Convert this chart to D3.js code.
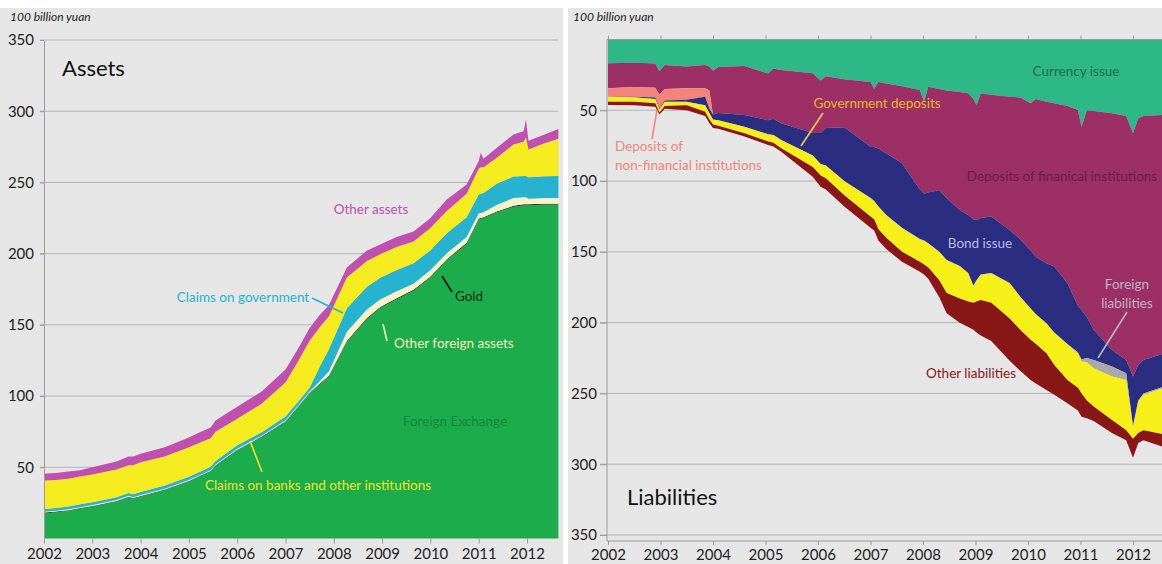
<!DOCTYPE html>
<html><head><meta charset="utf-8">
<script src="https://cdn.jsdelivr.net/npm/d3@7"></script>
<style>
body{margin:0;background:#fff;}
svg{display:block;font-family:Lato,"Open Sans",sans-serif;}
</style></head>
<body>
<svg id="c" width="1162" height="564"></svg>
<script>
// ---------- ASSETS (100 billion yuan) ----------
const assetDates = [2002.0,2002.25,2002.5,2002.75,2003.0,2003.5,2003.75,2003.85,2004.0,2004.5,2005.0,2005.25,2005.45,2005.55,2006.0,2006.5,2007.0,2007.25,2007.5,2007.7,2007.9,2008.27,2008.68,2008.96,2009.3,2009.65,2009.99,2010.34,2010.75,2011.0,2011.04,2011.1,2011.37,2011.72,2011.93,2011.98,2012.03,2012.35,2012.65];
const foreignExchange = [17.8,18.5,19.5,21.0,22.5,26.0,29.0,28.0,29.5,34.0,40.0,44.0,47.0,51.0,62.0,71.0,82.0,92.0,102.0,108.0,114.0,138.0,154.0,162.0,168.0,174.0,183.0,195.5,207.0,224.0,224.5,225.0,229.0,233.0,234.0,234.0,234.0,234.5,234.5];
const gold = [0.4,0.4,0.4,0.4,0.4,0.4,0.4,0.4,0.4,0.4,0.4,0.4,0.4,0.4,0.4,0.4,0.4,0.4,0.4,0.5,0.5,0.6,0.6,0.6,0.6,0.6,0.6,0.6,0.6,0.6,0.6,0.6,0.6,0.6,0.6,0.6,0.6,0.6,0.6];
const otherForeignAssets = [0.6,0.6,0.6,0.6,0.6,0.6,0.6,0.6,0.6,0.6,0.6,0.6,0.6,0.6,0.6,0.6,0.6,0.7,0.8,1.5,3.0,6.5,6.0,5.2,5.0,4.2,4.5,4.2,4.0,3.5,3.5,3.5,4.5,5.5,5.0,5.0,4.0,4.0,4.0];
const claimsOnGovernment = [2.0,2.0,2.0,2.0,2.0,2.0,2.0,2.0,2.2,2.2,2.3,2.3,2.4,2.4,2.5,2.5,2.6,2.6,2.6,10.0,15.5,16.5,16.0,15.3,15.0,14.5,14.0,14.0,14.0,13.5,13.5,13.5,15.0,15.0,15.0,15.0,15.0,15.3,15.5];
const claimsOnBanks = [19.9,19.5,19.5,19.5,19.5,19.5,19.5,20.5,20.8,20.3,20.7,20.2,20.0,20.5,18.5,20.0,24.0,28.0,33.0,28.0,23.0,21.7,18.0,16.4,16.0,15.2,15.5,15.7,16.5,18.0,18.5,18.0,18.0,22.5,24.0,27.0,19.5,23.0,26.0];
const otherAssets = [4.8,5.0,5.0,4.5,5.0,5.5,6.0,6.0,6.0,6.5,7.0,7.5,7.5,8.0,8.5,8.5,9.0,9.0,9.0,8.5,8.0,7.0,7.4,7.0,7.0,7.0,7.0,8.0,6.5,5.5,10.0,6.0,7.0,7.0,7.4,12.5,6.2,6.0,7.0];

// ---------- LIABILITIES (100 billion yuan) ----------
const liabDates = [2002.0,2002.5,2002.9,2002.98,2003.08,2003.5,2003.85,2003.93,2004.0,2004.1,2004.6,2005.05,2005.15,2005.3,2005.9,2006.05,2006.15,2006.5,2007.0,2007.07,2007.15,2007.3,2007.6,2007.94,2008.02,2008.1,2008.31,2008.45,2008.7,2008.86,2008.96,2009.02,2009.1,2009.3,2009.65,2009.85,2010.05,2010.15,2010.35,2010.5,2010.75,2010.95,2011.02,2011.12,2011.25,2011.6,2011.87,2012.0,2012.1,2012.2,2012.6];
const currencyIssue = [16.8,16.5,17.0,22.5,18.0,19.0,18.0,19.0,22.0,19.5,18.7,24.0,20.5,21.5,23.9,29.0,26.0,28.0,30.0,35.0,30.0,31.0,33.0,35.7,43.9,33.3,35.0,36.0,37.0,38.0,42.0,46.3,38.0,39.0,40.4,41.0,45.0,42.0,43.9,45.0,47.0,49.8,61.6,50.0,50.5,52.1,54.0,66.3,55.7,54.0,53.3];
const depositsFinancial = [17.7,17.0,17.0,16.5,17.0,15.5,16.5,17.0,31.0,32.5,34.6,33.0,35.5,37.7,42.1,37.0,36.5,34.0,45.7,41.0,47.0,49.4,54.4,70.3,65.1,74.7,71.3,76.0,83.4,86.0,85.0,81.2,88.0,86.0,94.1,100.0,104.0,111.4,114.1,115.4,125.0,138.2,129.4,146.0,154.5,167.2,172.3,171.7,174.3,172.3,168.3];
const depositsNonFinancial = [5.9,7.0,7.0,10.0,8.0,8.0,6.0,13.0,0,0,0,0,0,0,0,0,0,0,0,0,0,0,0,0,0,0,0,0,0,0,0,0,0,0,0,0,0,0,0,0,0,0,0,0,0,0,0,0,0,0,0];
const bondIssue = [0,0.3,1.0,0.5,1.0,1.5,6.0,3.0,3.5,5.0,8.3,10.0,11.5,11.8,16.0,22.0,26.5,38.0,36.3,38.0,41.0,43.6,45.6,35.0,33.0,36.0,43.7,43.7,39.6,41.0,47.0,42.5,40.0,40.0,37.5,40.6,41.0,40.6,42.4,46.6,43.0,33.0,35.0,29.0,21.3,11.7,9.4,35.0,25.0,23.7,23.4];
const foreignLiabilities = [0.2,0.2,0.2,0.2,0.2,0.2,0.2,0.2,0.2,0.2,0.2,0.2,0.2,0.2,0.2,0.2,0.2,0.2,0.2,0.2,0.2,0.3,0.3,0.3,0.3,0.3,0.3,0.3,0.3,0.3,0.3,0.3,0.3,0.3,0.3,0.3,0.3,0.3,0.3,0.4,0.5,1.0,1.5,3.0,5.9,7.0,4.8,1.0,1.0,1.0,1.0];
const governmentDeposits = [3.3,3.0,2.8,1.8,2.8,2.3,4.3,4.3,3.3,3.8,4.5,4.8,5.3,5.6,7.8,7.8,8.8,9.8,12.8,12.8,15.8,15.7,16.7,15.7,16.7,16.7,19.7,23.0,22.7,19.7,11.7,14.7,17.7,20.7,24.7,23.1,21.7,20.7,20.9,22.6,25.0,24.0,22.5,27.0,27.1,30.7,35.5,8.0,22.0,25.0,33.0];
const otherLiabilities = [2.4,2.5,2.5,1.5,2.0,3.5,3.0,2.5,2.5,2.0,2.3,2.5,2.5,2.4,7.0,8.0,8.0,8.0,8.0,8.0,8.0,8.0,7.0,7.0,7.0,8.0,12.0,14.4,17.0,18.0,19.0,22.0,25.0,27.0,30.0,29.0,28.5,28.0,25.9,21.0,16.5,16.0,16.4,12.5,10.2,9.3,7.0,13.5,7.0,7.0,9.0];

const yearTicks = [2002,2003,2004,2005,2006,2007,2008,2009,2010,2011,2012];
const valueTicks = [50,100,150,200,250,300,350];

// ---------- build tables ----------
const assetKeys = ["Foreign Exchange","Gold","Other foreign assets","Claims on government","Claims on banks and other institutions","Other assets"];
const assetSeries = [foreignExchange,gold,otherForeignAssets,claimsOnGovernment,claimsOnBanks,otherAssets];
const assetColors = ["#1cac4b","#1b1b1b","#f7f3c6","#27b3cf","#f4ec1f","#bf50ad"];
const assetTable = assetDates.map((t,i)=>{const o={t}; assetKeys.forEach((k,j)=>o[k]=assetSeries[j][i]); return o;});

const liabKeys = ["Currency issue","Deposits of finanical institutions","Deposits of non-financial institutions","Bond issue","Foreign liabilities","Government deposits","Other liabilities"];
const liabSeries = [currencyIssue,depositsFinancial,depositsNonFinancial,bondIssue,foreignLiabilities,governmentDeposits,otherLiabilities];
const liabColors = ["#2eb887","#9b2f66","#f3847b","#2b2d80","#a9a9a9","#f6ef18","#8a1717"];
const liabTable = liabDates.map((t,i)=>{const o={t}; liabKeys.forEach((k,j)=>o[k]=liabSeries[j][i]); return o;});

const svg = d3.select("#c");
const BG = "#e6e6e6", GRID = "#b4b4b4", AX = "#9a9a9a", TXT = "#222";

// panel backgrounds
svg.append("rect").attr("x",0).attr("y",8).attr("width",563).attr("height",556).attr("fill",BG);
svg.append("rect").attr("x",568).attr("y",8).attr("width",594).attr("height",556).attr("fill",BG);

// ================= LEFT: ASSETS =================
const xL = d3.scaleLinear().domain([2002,2012]).range([44,527]);
const yL = d3.scaleLinear().domain([0,350]).range([538.5,40]);
const gL = svg.append("g");

// gridlines
gL.selectAll("line.grid").data(valueTicks).join("line")
  .attr("x1",40).attr("x2",558).attr("y1",d=>yL(d)).attr("y2",d=>yL(d))
  .attr("stroke",GRID).attr("stroke-width",1);

const stackL = d3.stack().keys(assetKeys)(assetTable);
const areaL = d3.area().x(d=>xL(d.data.t)).y0(d=>yL(d[0])).y1(d=>yL(d[1]));
gL.selectAll("path.layer").data(stackL).join("path")
  .attr("d",areaL).attr("fill",(d,i)=>assetColors[i]);

// axes
const axLy = d3.axisLeft(yL).tickValues(valueTicks).tickSize(4).tickSizeOuter(0).tickPadding(6);
const gAxLy = gL.append("g").attr("transform","translate(44,0)").call(axLy);
const axLx = d3.axisBottom(xL).tickValues(yearTicks).tickFormat(d3.format("d")).tickSize(5).tickSizeOuter(0).tickPadding(5);
const gAxLx = gL.append("g").attr("transform","translate(0,538.5)").call(axLx);
gAxLx.select(".domain").remove();

// ================= RIGHT: LIABILITIES =================
const xR = d3.scaleLinear().domain([2002,2012]).range([608,1133]);
const yR = d3.scaleLinear().domain([0,350]).range([39.5,535]);
const gR = svg.append("g");

gR.selectAll("line.grid").data(valueTicks).join("line")
  .attr("x1",600).attr("x2",1162).attr("y1",d=>yR(d)).attr("y2",d=>yR(d))
  .attr("stroke",GRID).attr("stroke-width",1);

const stackR = d3.stack().keys(liabKeys)(liabTable);
const areaR = d3.area().x(d=>xR(d.data.t)).y0(d=>yR(d[0])).y1(d=>yR(d[1]));
gR.selectAll("path.layer").data(stackR).join("path")
  .attr("d",areaR).attr("fill",(d,i)=>liabColors[i]);

// top line with ticks
const axRtop = d3.axisTop(xR).tickValues(yearTicks).tickFormat("").tickSize(4).tickSizeOuter(0);
const gAxRtop = gR.append("g").attr("transform","translate(0,39.5)").call(axRtop);
gAxRtop.select(".domain").attr("d","M607,0H1162");
const axRy = d3.axisLeft(yR).tickValues(valueTicks).tickSize(7).tickSizeOuter(0).tickPadding(3);
const gAxRy = gR.append("g").attr("transform","translate(607,0)").call(axRy);
gAxRy.select(".domain").attr("d","M0,39.5V541");
const axRx = d3.axisBottom(xR).tickValues(yearTicks).tickFormat(d3.format("d")).tickSize(4).tickSizeOuter(0).tickPadding(4);
const gAxRx = gR.append("g").attr("transform","translate(0,541)").call(axRx);
gAxRx.select(".domain").attr("d","M607,0H1162");

// axis styling
svg.selectAll(".domain").attr("stroke",AX).attr("fill","none");
svg.selectAll(".tick line").attr("stroke",AX);
svg.selectAll(".tick text").attr("fill",TXT).style("font-family","Lato, sans-serif").style("font-size","15px");

// unit labels
svg.append("text").attr("x",10).attr("y",21).text("100 billion yuan")
  .attr("font-style","italic").attr("font-size",12).attr("fill",TXT);
svg.append("text").attr("x",573).attr("y",21).text("100 billion yuan")
  .attr("font-style","italic").attr("font-size",12).attr("fill",TXT);

// panel titles
svg.append("text").attr("x",62).attr("y",76).text("Assets").attr("font-size",22).attr("fill","#111");
svg.append("text").attr("x",627).attr("y",505).text("Liabilities").attr("font-size",22).attr("fill","#111");

// annotations helper
function label(x,y,txt,color,anchor="middle",size=13.5){
  svg.append("text").attr("x",x).attr("y",y).text(txt).attr("fill",color)
    .attr("text-anchor",anchor).attr("font-size",size);
}
function leader(x1,y1,x2,y2,color){
  svg.append("line").attr("x1",x1).attr("y1",y1).attr("x2",x2).attr("y2",y2)
    .attr("stroke",color).attr("stroke-width",1.6);
}
// left
label(371,214,"Other assets","#c050b0");
label(243,302,"Claims on government","#27b3cf");
leader(312,298,343,313,"#27b3cf");
label(469,301,"Gold","#0d2a14");
leader(442,276,452,292,"#111");
label(394,348,"Other foreign assets","#f3f0c0","start");
leader(383,324,387,341,"#f3f0c0");
label(455,426,"Foreign Exchange","#15873c");
label(318,490,"Claims on banks and other institutions","#eee62a");
leader(250,441,262,472,"#eee62a");
// right
label(1076,76,"Currency issue","#1d6c4f");
label(1062,181,"Deposits of finanical institutions","#6f1c47");
label(980,248,"Bond issue","#b9b9e9");
label(1127,289,"Foreign","#c2b4c4");
label(1127,308,"liabilities","#c2b4c4");
leader(1127,312,1098,358,"#b8b8c0");
label(971,378,"Other liabilities","#8a1717");
label(877,108,"Government deposits","#f2b62c");
leader(823,113,801,146,"#f0d24a");
label(615,151,"Deposits of","#f2857c","start");
label(615,170,"non-financial institutions","#f2857c","start");
leader(657,110,652,139,"#f2857c");
</script>
</body></html>
